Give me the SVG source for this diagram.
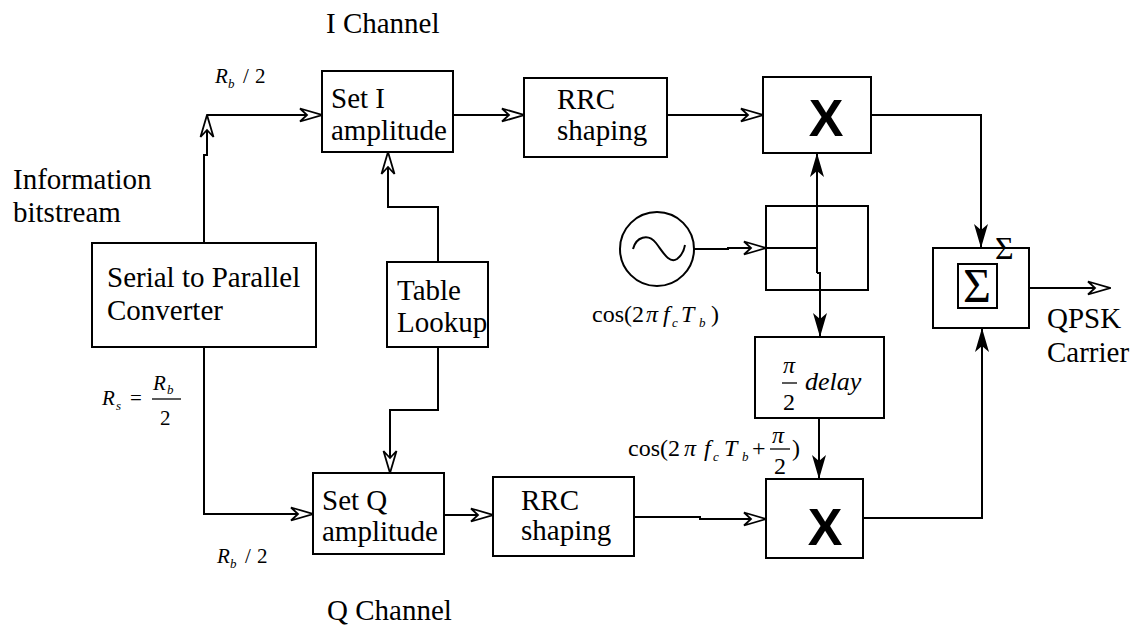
<svg xmlns="http://www.w3.org/2000/svg" width="1144" height="631" viewBox="0 0 1144 631" font-family="'Liberation Serif', Tinos, 'Times New Roman', 'DejaVu Serif', serif">
<style>
text{font-family:"Liberation Serif",Tinos,"Times New Roman","DejaVu Serif",serif;fill:#000}
.t{font-size:29px}
.m{font-size:21px}
.c{font-size:24px}
.i{font-style:italic}
.sub{font-size:13px;font-style:italic}
.x{font-family:"Liberation Sans",Arial,sans-serif;font-weight:bold;font-size:52px}
.box{fill:#fff;stroke:#000;stroke-width:2}
.ln{fill:none;stroke:#000;stroke-width:2}
</style>
<defs>
<marker id="open" markerUnits="userSpaceOnUse" markerWidth="24" markerHeight="16" viewBox="0 0 24 16" refX="23" refY="8" orient="auto">
<path d="M1,1.5 L23,8 L1,14.5 L8,8 Z" fill="#fff" stroke="#000" stroke-width="1.8" stroke-linejoin="miter"/>
</marker>
<marker id="solid" markerUnits="userSpaceOnUse" markerWidth="24" markerHeight="16" viewBox="0 0 24 16" refX="24" refY="8" orient="auto">
<path d="M0,1 L24,8 L0,15 L6,8 Z" fill="#000"/>
</marker>
</defs>

<g id="connectors" class="ln">
<path d="M204,243 V155 H207 V115" marker-end="url(#open)"/>
<path d="M207,115 H322" marker-end="url(#open)"/>
<path d="M204,347 V514 H313" marker-end="url(#open)"/>
<path d="M453,115 H524" marker-end="url(#open)"/>
<path d="M667,115 H763" marker-end="url(#open)"/>
<path d="M871,115 H981 V248" marker-end="url(#solid)"/>
<path d="M438,262 V207 H388 V152" marker-end="url(#open)"/>
<path d="M438,347 V410 H390 V473" marker-end="url(#open)"/>
<path d="M441,515 H493" marker-end="url(#open)"/>
<path d="M634,517 H700 V519 H766" marker-end="url(#open)"/>
<path d="M863,518 H982 V328" marker-end="url(#solid)"/>
<path d="M1029,288 H1110" marker-end="url(#open)"/>
<path d="M694,249 H728 V248 H766" marker-end="url(#open)"/>
<path d="M766,248 H817"/>
<path d="M817,273 V153" marker-end="url(#solid)"/>
<path d="M817,273 H820 V337" marker-end="url(#solid)"/>
<path d="M819,418 V479" marker-end="url(#solid)"/>
</g>

<g id="label-i-channel"><text class="t" x="326" y="33">I Channel</text></g>
<g id="label-info"><text class="t" x="13" y="189">Information</text><text class="t" x="13" y="222">bitstream</text></g>

<g id="s2p">
<rect class="box" x="92" y="243" width="224" height="104"/>
<text class="t" x="107" y="287">Serial to Parallel</text>
<text class="t" x="107" y="320">Converter</text>
</g>

<g id="set-i">
<rect class="box" x="322" y="71" width="131" height="81"/>
<text class="t" x="331" y="108">Set I</text>
<text class="t" x="331" y="140">amplitude</text>
</g>

<g id="rrc-i">
<rect class="box" x="524" y="78" width="143" height="79"/>
<text class="t" x="557" y="109">RRC</text>
<text class="t" x="557" y="140">shaping</text>
</g>

<g id="mult-i">
<rect class="box" x="763" y="77" width="108" height="76"/>
<text class="x" x="826" y="136" text-anchor="middle">X</text>
</g>

<g id="table">
<rect class="box" x="387" y="262" width="101" height="85"/>
<text class="t" x="397" y="300">Table</text>
<text class="t" x="397" y="332">Lookup</text>
</g>

<g id="set-q">
<rect class="box" x="313" y="473" width="131" height="81"/>
<text class="t" x="322" y="510">Set Q</text>
<text class="t" x="322" y="541">amplitude</text>
</g>

<g id="rrc-q">
<rect class="box" x="493" y="477" width="141" height="79"/>
<text class="t" x="521" y="510">RRC</text>
<text class="t" x="521" y="540">shaping</text>
</g>

<g id="mult-q">
<rect class="box" x="766" y="479" width="97" height="79"/>
<text class="x" x="825" y="545" text-anchor="middle">X</text>
</g>

<g id="oscillator">
<circle cx="657" cy="249" r="37" class="ln"/>
<path class="ln" d="M633,249 C636,237 648,233 656,243 C663,252 669,264 677,259 C681,256 684,251 685,245"/>
</g>

<g id="splitter">
<rect x="766" y="206" width="102" height="84" fill="none" stroke="#000" stroke-width="2"/>
</g>

<g id="delay">
<rect class="box" x="755" y="337" width="129" height="81"/>
<text class="c i" x="783" y="373">π</text>
<line x1="782" y1="383" x2="797" y2="383" stroke="#000" stroke-width="1.3"/>
<text class="c" x="783" y="410">2</text>
<text class="i" font-size="26" x="805" y="390">delay</text>
</g>

<g id="summer">
<rect class="box" x="933" y="248" width="96" height="80"/>
<rect class="box" x="958" y="264" width="39" height="44"/>
<text font-size="48" x="977" y="302" text-anchor="middle">Σ</text>
<text font-size="32" x="995" y="259">Σ</text>
</g>

<g id="label-qpsk"><text class="t" x="1047" y="328">QPSK</text><text class="t" x="1047" y="362">Carrier</text></g>

<g id="label-rb-top">
<text class="m i" x="215" y="83">R</text><text class="sub" x="228" y="88">b</text>
<text class="m" x="243" y="83">/</text><text class="m" x="255" y="83">2</text>
</g>

<g id="label-rs">
<text class="m i" x="102" y="405">R</text><text class="sub" x="116" y="410">s</text>
<text class="m" x="130" y="405">=</text>
<text class="m i" x="153" y="390">R</text><text class="sub" x="167" y="394">b</text>
<line x1="152" y1="399" x2="181" y2="399" stroke="#000" stroke-width="1.3"/>
<text class="m" x="160" y="425">2</text>
</g>

<g id="label-rb-bottom">
<text class="m i" x="217" y="563">R</text><text class="sub" x="230" y="568">b</text>
<text class="m" x="245" y="563">/</text><text class="m" x="257" y="563">2</text>
</g>

<g id="label-q-channel"><text class="t" x="327" y="620">Q Channel</text></g>

<g id="label-cos1">
<text class="c" x="592" y="322">cos(2</text>
<text class="c i" x="646" y="322">π</text>
<text class="c i" x="663" y="322">f</text>
<text class="sub" font-size="15" x="672" y="327">c</text>
<text class="c i" x="681" y="322">T</text>
<text class="sub" font-size="15" x="699" y="327">b</text>
<text class="c" x="711" y="322">)</text>
</g>

<g id="label-cos2">
<text class="c" x="628" y="456">cos(2</text>
<text class="c i" x="684" y="456">π</text>
<text class="c i" x="704" y="456">f</text>
<text class="sub" font-size="15" x="713" y="461">c</text>
<text class="c i" x="724" y="456">T</text>
<text class="sub" font-size="15" x="742" y="461">b</text>
<text class="c" x="752" y="456">+</text>
<text class="c i" x="772" y="443">π</text>
<line x1="770" y1="449" x2="790" y2="449" stroke="#000" stroke-width="1.3"/>
<text class="c" x="774" y="474">2</text>
<text class="c" x="792" y="456">)</text>
</g>
</svg>
